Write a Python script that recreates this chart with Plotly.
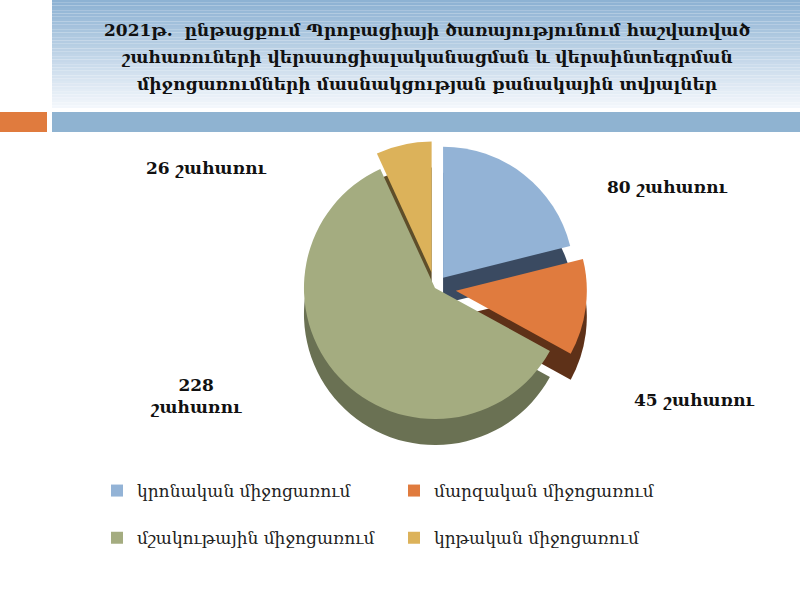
import plotly.graph_objects as go

categories = ["կրոնական միջոցառում", "մարզական միջոցառում",
              "մշակութային միջոցառում", "կրթական միջոցառում"]
values = [80, 45, 228, 26]
unit = "շահառու"
title_lines = ["2021թ.  ընթացքում Պրոբացիայի ծառայությունում հաշվառված",
               "շահառուների վերասոցիալականացման և վերաինտեգրման",
               "միջոցառումների մասնակցության քանակային տվյալներ"]

top_colors = ["#93b3d6", "#e07b3e", "#a4ac80", "#dcb25a"]
side_colors = ["#3a4a61", "#5e3118", "#6a7153", "#5e4e2a"]
pulls = [0.1, 0.16, 0.0, 0.12]

W, H = 800, 600
def px(x): return x / W
def py(y): return 1 - y / H

# legend entries get an extra blank line to match the reference row spacing
legend_labels = [c + "<br> " for c in categories]

fig = go.Figure()

cx, cy, r = 435, 288, 152
depth = 26
# shadow (side) pie
fig.add_trace(go.Pie(
    labels=legend_labels, values=values, sort=False, direction="clockwise",
    rotation=0, pull=pulls, textinfo="none", hoverinfo="skip",
    marker=dict(colors=side_colors, line=dict(width=0)),
    showlegend=False,
    domain=dict(x=[px(cx - r), px(cx + r)], y=[py(cy + depth + r), py(cy + depth - r)]),
))
# top pie
fig.add_trace(go.Pie(
    labels=legend_labels, values=values, sort=False, direction="clockwise",
    rotation=0, pull=pulls, textinfo="none",
    customdata=categories, hovertemplate="%{customdata}: %{value}<extra></extra>",
    marker=dict(colors=top_colors, line=dict(width=0)),
    domain=dict(x=[px(cx - r), px(cx + r)], y=[py(cy + r), py(cy - r)]),
))

shapes = []
# gradient title band
n = 40
top_rgb = (141, 178, 211)
bot_rgb = (243, 247, 252)
y0, y1 = 0, 108
for i in range(n):
    t = i / (n - 1)
    c = tuple(int(top_rgb[k] + (bot_rgb[k] - top_rgb[k]) * t) for k in range(3))
    shapes.append(dict(type="rect", xref="paper", yref="paper",
                       x0=px(52), x1=1, y0=py(y0 + (y1 - y0) * (i + 1) / n),
                       y1=py(y0 + (y1 - y0) * i / n),
                       fillcolor="rgb(%d,%d,%d)" % c, line=dict(width=0), layer="below"))
shapes.append(dict(type="rect", xref="paper", yref="paper", x0=0, x1=px(47),
                   y0=py(132), y1=py(112), fillcolor="#e07b3e", line=dict(width=0), layer="below"))
shapes.append(dict(type="rect", xref="paper", yref="paper", x0=px(52), x1=1,
                   y0=py(132), y1=py(112), fillcolor="#8fb3d1", line=dict(width=0), layer="below"))

annotations = []
for i, line in enumerate(title_lines):
    annotations.append(dict(text="<b>%s</b>" % line, xref="paper", yref="paper",
                            x=px(427), y=py(30 + 27 * i), showarrow=False,
                            xanchor="center", yanchor="middle",
                            font=dict(family="DejaVu Serif", size=17, color="#111")))

label_pos = [(667, 187, "one"), (694, 400, "one"), (196, 396, "two"), (206, 168, "one")]
for i, (lx, ly, mode) in enumerate(label_pos):
    if mode == "two":
        txt = "<b>%d<br>%s</b>" % (values[i], unit)
    else:
        txt = "<b>%d %s</b>" % (values[i], unit)
    annotations.append(dict(text=txt, xref="paper", yref="paper", x=px(lx), y=py(ly),
                            showarrow=False, align="center",
                            xanchor="center", yanchor="middle",
                            font=dict(family="DejaVu Serif", size=17, color="#111")))

fig.update_layout(
    width=W, height=H, margin=dict(l=0, r=0, t=0, b=0),
    paper_bgcolor="white", plot_bgcolor="white",
    shapes=shapes, annotations=annotations,
    legend=dict(orientation="h", x=px(97), y=py(473), xanchor="left", yanchor="top",
                entrywidth=252, entrywidthmode="pixels", traceorder="normal",
                valign="top",
                font=dict(family="DejaVu Serif", size=17, color="#222")),
)

fig.write_html("out.html", config={"displayModeBar": False},
               post_script="document.body.style.margin='0';")
